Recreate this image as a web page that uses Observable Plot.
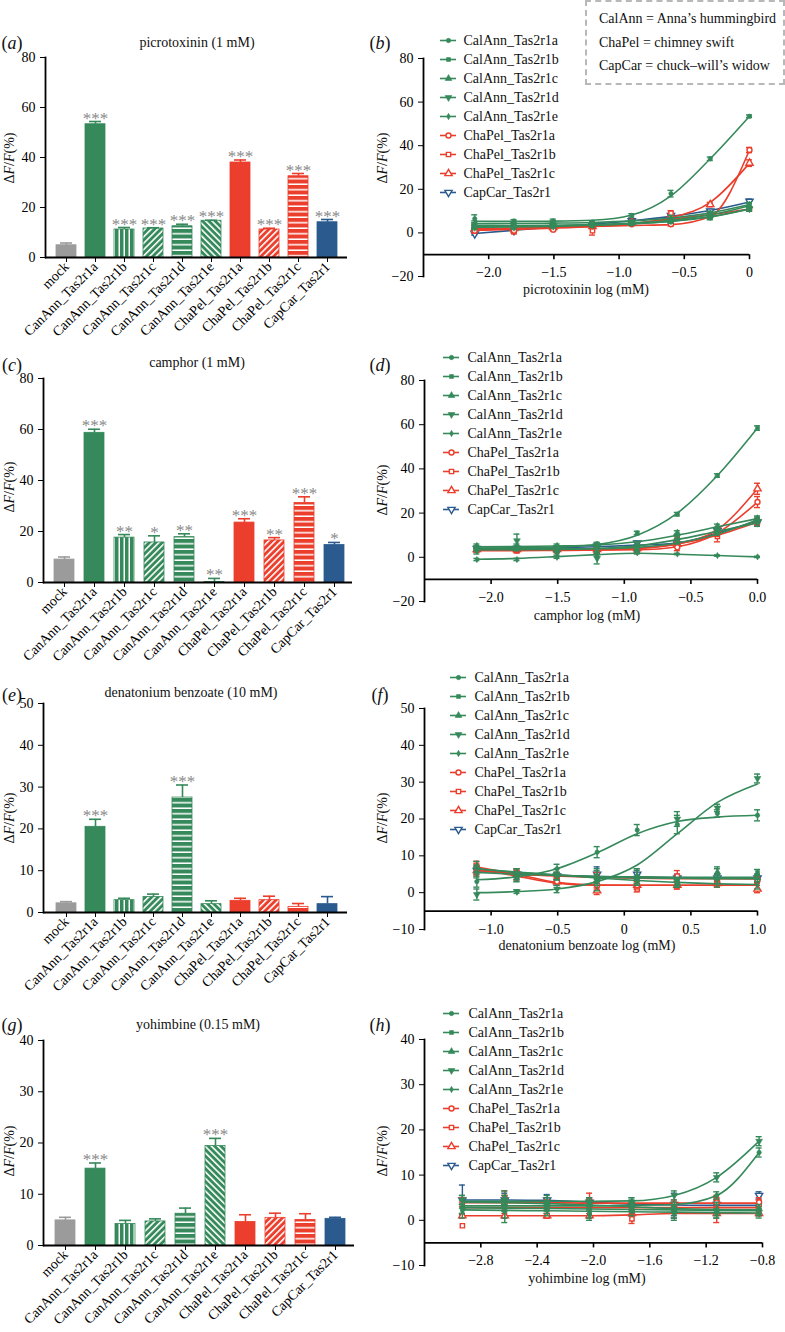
<!DOCTYPE html>
<html>
<head>
<meta charset="utf-8">
<script src="https://cdn.jsdelivr.net/npm/d3@7"></script>
<script src="https://cdn.jsdelivr.net/npm/@observablehq/plot@0.6"></script>
<style>
html,body{margin:0;padding:0;background:#fff;}
#root{position:relative;width:785px;height:1332px;overflow:hidden;font-family:"Liberation Serif","Times New Roman",serif;color:#111;}
#root .t{position:absolute;white-space:nowrap;line-height:1;transform:translate(-50%,-50%);}
#root .tl{position:absolute;white-space:nowrap;line-height:1;transform:translate(0,-50%);}
#root .p{position:absolute;}
</style>
</head>
<body>
<svg width="0" height="0" style="position:absolute;left:0;top:0">
<defs>
  <pattern id="gV" width="5" height="6" patternUnits="userSpaceOnUse"><rect width="5" height="6" fill="#35895a"/><rect x="3.5" width="1.5" height="6" fill="#fff"/></pattern>
  <pattern id="gH" width="6" height="5.5" patternUnits="userSpaceOnUse"><rect width="6" height="5.5" fill="#35895a"/><rect y="4" width="6" height="1.5" fill="#fff"/></pattern>
  <pattern id="gD1" width="4.5" height="4.5" patternUnits="userSpaceOnUse" patternTransform="rotate(45)"><rect width="4.5" height="4.5" fill="#35895a"/><rect width="1.6" height="4.5" fill="#fff"/></pattern>
  <pattern id="gD2" width="4.5" height="4.5" patternUnits="userSpaceOnUse" patternTransform="rotate(-45)"><rect width="4.5" height="4.5" fill="#35895a"/><rect width="1.6" height="4.5" fill="#fff"/></pattern>
  <pattern id="rD1" width="4.5" height="4.5" patternUnits="userSpaceOnUse" patternTransform="rotate(45)"><rect width="4.5" height="4.5" fill="#eb3e2c"/><rect width="1.6" height="4.5" fill="#fff"/></pattern>
  <pattern id="rH" width="6" height="5.5" patternUnits="userSpaceOnUse"><rect width="6" height="5.5" fill="#eb3e2c"/><rect y="4" width="6" height="1.5" fill="#fff"/></pattern>
</defs>
</svg>
<div id="root"></div>
<script>
// ---------------- data ----------------
const barCats = ["mock","CanAnn_Tas2r1a","CanAnn_Tas2r1b","CanAnn_Tas2r1c","CanAnn_Tas2r1d","CanAnn_Tas2r1e","ChaPel_Tas2r1a","ChaPel_Tas2r1b","ChaPel_Tas2r1c","CapCar_Tas2r1"];

const picroMean = [4.9, 53.3, 11.2, 11.6, 12.5, 14.7, 38.0, 11.2, 32.5, 14.1];
const picroErr  = [0.9, 1.1, 0.8, 0.3, 0.8, 0.2, 1.0, 0.5, 1.1, 1.1];
const picroSig  = ["", "***", "***", "***", "***", "***", "***", "***", "***", "***"];

const camphorMean = [9.0, 58.7, 17.6, 15.7, 17.8, 0.2, 23.5, 16.5, 31.2, 14.7];
const camphorErr  = [1.0, 1.4, 1.2, 2.6, 1.3, 1.4, 1.5, 1.1, 2.4, 1.0];
const camphorSig  = ["", "***", "**", "*", "**", "**", "***", "**", "***", "*"];

const denatMean = [2.2, 20.5, 2.95, 3.7, 27.5, 2.0, 2.8, 2.95, 1.35, 2.0];
const denatErr  = [0.4, 1.8, 0.45, 0.7, 3.0, 0.8, 0.6, 0.95, 0.8, 1.8];
const denatSig  = ["", "***", "", "", "***", "", "", "", "", ""];

const yohimMean = [4.9, 15.0, 4.2, 4.7, 6.2, 19.4, 4.6, 5.4, 5.0, 5.2];
const yohimErr  = [0.6, 1.1, 0.7, 0.5, 1.1, 1.5, 1.4, 0.9, 1.2, 0.3];
const yohimSig  = ["", "***", "", "", "", "***", "", "", "", ""];

const seriesNames = ["CalAnn_Tas2r1a","CalAnn_Tas2r1b","CalAnn_Tas2r1c","CalAnn_Tas2r1d","CalAnn_Tas2r1e","ChaPel_Tas2r1a","ChaPel_Tas2r1b","ChaPel_Tas2r1c","CapCar_Tas2r1"];

const picroX = [-2.107, -1.806, -1.505, -1.204, -0.903, -0.602, -0.301, 0];
const picroMeans = [
  [6.5, 5.5, 5.5, 5.0, 8.0, 18.0, 34.0, 53.5],
  [3.0, 3.0, 3.5, 3.5, 4.5, 5.5, 7.0, 11.0],
  [3.5, 3.5, 3.5, 4.0, 4.5, 6.0, 8.0, 12.5],
  [2.5, 2.5, 3.0, 3.5, 4.5, 5.5, 7.5, 11.0],
  [4.5, 4.0, 4.5, 4.5, 5.0, 7.0, 9.0, 13.0],
  [1.0, 1.0, 1.5, 3.0, 4.0, 4.0, 8.0, 38.0],
  [1.0, 0.5, 2.0, 1.0, 5.0, 9.0, 8.0, 11.0],
  [2.0, 2.0, 2.5, 3.0, 5.0, 8.0, 13.0, 32.0],
  [-0.5, 1.0, 2.5, 3.5, 5.5, 8.0, 10.0, 14.5]];
const picroSems = [
  [1.8, 0.6, 0.8, 0.6, 0.8, 1.5, 0.8, 0.6],
  [1.0, 0.8, 0.8, 0.8, 0.8, 1.0, 1.0, 1.0],
  [1.0, 0.8, 0.8, 0.8, 0.8, 1.0, 1.0, 1.0],
  [1.0, 0.8, 0.8, 0.8, 0.8, 1.0, 1.0, 1.0],
  [1.0, 0.8, 0.8, 0.8, 0.8, 1.0, 1.0, 1.0],
  [1.0, 0.5, 0.5, 1.0, 0.5, 0.8, 1.0, 1.2],
  [1.0, 0.5, 0.5, 2.0, 0.5, 1.2, 1.0, 1.0],
  [0.5, 0.5, 0.5, 0.5, 0.5, 1.0, 1.0, 1.5],
  [0.5, 0.5, 0.5, 0.5, 0.5, 0.5, 0.8, 1.0]];
const picroFits = [
  [5.3, 5.3, 5.4, 5.8, 8.2, 17.0, 34.0, 53.5],
  [3.0, 3.1, 3.3, 3.6, 4.2, 5.3, 7.3, 11.0],
  [3.4, 3.4, 3.5, 3.8, 4.5, 5.8, 8.3, 12.5],
  [2.6, 2.7, 3.0, 3.5, 4.2, 5.4, 7.5, 11.0],
  [4.2, 4.3, 4.5, 4.8, 5.5, 6.8, 9.2, 13.0],
  [1.5, 2.0, 2.5, 3.0, 3.4, 3.8, 7.5, 38.0],
  [1.2, 1.6, 2.2, 3.0, 4.3, 6.2, 8.4, 11.0],
  [2.0, 2.2, 2.5, 3.0, 4.2, 7.0, 14.0, 32.0],
  [-0.3, 1.2, 2.6, 4.0, 5.6, 7.6, 10.3, 14.2]];

const camphorX = [-2.107, -1.806, -1.505, -1.204, -0.903, -0.602, -0.301, 0];
const camphorMeans = [
  [4.0, 4.0, 4.5, 6.0, 11.0, 19.5, 37.0, 58.5],
  [4.0, 4.0, 3.5, 3.5, 4.0, 7.0, 11.0, 17.0],
  [5.0, 5.0, 5.0, 5.5, 6.0, 11.0, 14.0, 17.5],
  [3.0, 7.5, 2.0, -0.5, 4.5, 9.5, 12.0, 15.5],
  [-1.0, -1.0, 0.0, 1.0, 2.0, 1.5, 0.8, 0.2],
  [3.5, 3.5, 3.0, 3.0, 3.0, 4.5, 11.0, 25.0],
  [3.5, 3.0, 3.5, 2.5, 3.0, 8.0, 9.5, 16.0],
  [3.5, 3.5, 3.5, 3.5, 4.0, 6.0, 12.0, 31.0],
  [4.0, 4.0, 4.0, 5.0, 6.5, 6.0, 12.0, 16.0]];
const camphorSems = [
  [1.0, 1.0, 0.8, 0.8, 0.8, 0.8, 0.8, 1.0],
  [1.0, 1.0, 1.0, 1.0, 1.0, 1.0, 1.0, 1.2],
  [1.0, 1.0, 1.0, 1.0, 1.0, 1.0, 1.0, 1.2],
  [1.5, 3.0, 1.0, 2.5, 1.0, 1.0, 1.0, 1.5],
  [0.5, 0.5, 0.5, 0.5, 0.5, 0.3, 0.3, 0.3],
  [1.0, 1.0, 1.0, 1.0, 1.0, 1.5, 1.5, 2.5],
  [1.0, 1.0, 1.0, 1.0, 1.0, 1.5, 2.5, 1.5],
  [1.0, 1.0, 1.0, 1.0, 1.0, 1.0, 1.5, 2.5],
  [1.0, 1.0, 1.0, 1.0, 0.8, 1.0, 1.2, 1.5]];
const camphorFits = [
  [4.2, 4.3, 4.6, 5.8, 10.0, 20.0, 37.0, 58.5],
  [3.8, 3.8, 3.8, 3.9, 4.5, 6.5, 10.5, 17.0],
  [4.8, 4.9, 5.1, 5.6, 7.0, 10.0, 13.8, 17.5],
  [3.3, 3.4, 3.5, 4.0, 5.2, 8.0, 11.8, 15.5],
  [-0.9, -0.5, 0.3, 1.2, 1.8, 1.4, 0.8, 0.2],
  [3.3, 3.3, 3.3, 3.3, 3.4, 4.8, 11.0, 25.0],
  [3.0, 3.0, 3.1, 3.3, 4.0, 6.0, 10.0, 16.0],
  [3.5, 3.5, 3.5, 3.6, 4.0, 6.0, 12.5, 31.0],
  [4.0, 4.1, 4.3, 4.8, 5.5, 6.5, 11.0, 16.5]];

const denatX = [-1.107, -0.806, -0.505, -0.204, 0.097, 0.398, 0.699, 1.0];
const denatMeans = [
  [3.0, 4.0, 6.5, 11.0, 17.0, 18.5, 21.5, 21.0],
  [5.5, 4.0, 4.5, 3.5, 3.5, 2.5, 5.0, 5.5],
  [7.0, 5.0, 5.0, 4.0, 4.5, 2.5, 5.5, 4.0],
  [-0.5, 0.3, 1.0, 3.5, 4.0, 20.0, 23.0, 31.0],
  [6.5, 5.5, 4.5, 4.0, 3.0, 2.5, 2.5, 2.0],
  [7.0, 5.5, 3.0, 2.0, 2.0, 2.0, 2.5, 3.5],
  [6.5, 5.0, 4.5, 4.0, 1.0, 4.5, 3.0, 3.5],
  [6.0, 5.0, 3.0, 0.5, 2.0, 2.0, 2.5, 1.0],
  [6.0, 5.0, 4.5, 5.0, 5.0, 4.0, 4.0, 4.0]];
const denatSems = [
  [1.5, 1.0, 1.2, 1.5, 1.5, 2.5, 1.0, 1.5],
  [1.5, 1.0, 1.0, 1.0, 1.0, 1.0, 1.5, 0.8],
  [1.5, 1.5, 1.5, 2.0, 2.0, 1.0, 1.5, 1.0],
  [1.5, 0.5, 1.0, 3.0, 2.0, 2.0, 1.0, 1.2],
  [1.0, 1.0, 1.0, 1.0, 1.0, 1.0, 1.0, 1.0],
  [1.5, 1.0, 1.0, 1.0, 1.0, 1.0, 1.0, 0.8],
  [1.5, 1.5, 1.0, 1.5, 0.8, 1.5, 1.0, 1.0],
  [1.5, 1.5, 1.0, 1.0, 1.0, 1.0, 1.0, 1.0],
  [1.0, 1.0, 1.0, 2.0, 1.5, 1.0, 1.0, 1.0]];
const denatFits = [
  [3.5, 4.3, 6.5, 10.8, 16.0, 19.3, 20.5, 21.0],
  [5.5, 5.0, 4.7, 4.4, 4.3, 4.2, 4.2, 4.2],
  [6.5, 5.5, 4.8, 4.3, 4.0, 3.9, 3.8, 3.8],
  [0.0, 0.3, 1.0, 3.0, 7.5, 16.0, 24.5, 29.5],
  [6.5, 5.6, 4.8, 4.0, 3.3, 2.8, 2.4, 2.2],
  [7.0, 5.0, 2.8, 2.1, 2.0, 2.0, 2.0, 2.0],
  [6.0, 5.0, 4.5, 4.1, 3.9, 3.8, 3.8, 3.7],
  [6.5, 4.5, 2.6, 2.0, 2.0, 2.0, 2.0, 2.0],
  [6.0, 5.2, 4.7, 4.4, 4.2, 4.1, 4.0, 4.0]];

const yohimX = [-2.931, -2.630, -2.329, -2.028, -1.727, -1.426, -1.125, -0.824];
const yohimMeans = [
  [4.5, 3.0, 3.0, 4.0, 3.5, 3.0, 5.5, 15.0],
  [2.5, 2.0, 2.5, 1.5, 2.0, 1.5, 1.5, 1.5],
  [3.0, 5.0, 4.0, 3.5, 4.0, 2.0, 2.0, 2.5],
  [4.5, 4.5, 4.0, 3.5, 4.0, 5.5, 9.5, 17.5],
  [2.0, 2.0, 2.5, 1.0, 3.0, 1.5, 2.5, 2.0],
  [4.0, 4.0, 3.5, 3.5, 2.0, 3.5, 4.0, 4.0],
  [-1.2, 5.0, 1.0, 4.5, 0.3, 2.0, 4.5, 3.5],
  [1.0, 1.0, 1.0, 1.0, 1.5, 3.0, 1.5, 1.5],
  [4.5, 4.5, 4.5, 4.0, 3.0, 3.5, 3.5, 5.5]];
const yohimSems = [
  [1.0, 1.0, 1.0, 1.0, 1.0, 1.0, 0.8, 1.0],
  [1.0, 1.5, 1.0, 1.0, 1.0, 1.0, 1.0, 1.0],
  [1.5, 1.5, 1.5, 1.5, 1.0, 1.5, 1.5, 1.0],
  [1.0, 1.0, 1.0, 1.0, 1.0, 1.0, 1.0, 1.0],
  [1.5, 2.5, 1.5, 1.0, 1.0, 1.5, 1.5, 1.0],
  [1.0, 1.5, 1.0, 1.5, 1.0, 1.0, 1.0, 1.0],
  [0.0, 1.5, 0.5, 1.5, 1.0, 1.5, 1.0, 1.0],
  [0.5, 0.5, 0.5, 0.5, 0.5, 1.0, 2.0, 0.5],
  [3.3, 1.5, 1.2, 1.0, 1.0, 2.5, 1.0, 0.8]];
const yohimFits = [
  [3.2, 3.2, 3.2, 3.2, 3.3, 3.5, 5.5, 15.0],
  [2.3, 2.2, 2.1, 2.0, 1.9, 1.8, 1.7, 1.6],
  [4.0, 3.9, 3.7, 3.4, 3.0, 2.6, 2.4, 2.3],
  [4.2, 4.2, 4.2, 4.2, 4.3, 5.5, 9.5, 17.5],
  [2.8, 2.7, 2.6, 2.5, 2.4, 2.3, 2.2, 2.1],
  [3.9, 3.9, 3.9, 3.8, 3.8, 3.8, 3.8, 3.8],
  [2.8, 2.8, 2.8, 2.8, 2.8, 2.8, 2.8, 2.8],
  [1.0, 1.0, 1.0, 1.0, 1.2, 1.5, 1.5, 1.5],
  [4.5, 4.5, 4.4, 4.0, 3.6, 3.4, 3.3, 3.3]];

const picroTicks = [-2, -1.5, -1, -0.5, 0];
const picroTickLabels = ["−2.0", "−1.5", "−1.0", "−0.5", "0"];
const camphorTicks = [-2, -1.5, -1, -0.5, 0];
const camphorTickLabels = ["−2.0", "−1.5", "−1.0", "−0.5", "0.0"];
const denatTicks = [-1, -0.5, 0, 0.5, 1];
const denatTickLabels = ["−1.0", "−0.5", "0", "0.5", "1.0"];
const yohimTicks = [-2.8, -2.4, -2.0, -1.6, -1.2, -0.8];
const yohimTickLabels = ["−2.8", "−2.4", "−2.0", "−1.6", "−1.2", "−0.8"];

// ---------------- styles ----------------
const GREEN = "#35895a", RED = "#eb3e2c", BLUE = "#2b5b8e", GRAY = "#9b9b9b", STAR = "#8a8a8a";
const SERIF = '"Liberation Serif","Times New Roman",serif';
const barFill = [GRAY, GREEN, "url(#gV)", "url(#gD1)", "url(#gH)", "url(#gD2)", RED, "url(#rD1)", "url(#rH)", BLUE];
const barLine = [GRAY, GREEN, GREEN, GREEN, GREEN, GREEN, RED, RED, RED, BLUE];
const seriesColor = [GREEN, GREEN, GREEN, GREEN, GREEN, RED, RED, RED, BLUE];
const seriesSymbol = ["circle", "square", "triangle", "triangle", "diamond", "circle", "square", "triangle", "triangle"];
const seriesRotate = [0, 0, 0, 180, 0, 0, 0, 0, 180];
const seriesOpen = [false, false, false, false, false, true, true, true, true];
const seriesR = [2.2, 2.2, 2.5, 2.5, 1.9, 2.5, 2.4, 2.7, 2.7];

const root = document.getElementById("root");
const baseStyle = {fontFamily: SERIF, fontSize: "13px", color: "#000", background: "transparent", overflow: "visible"};

function place(node, left, top) {
  const d = document.createElement("div");
  d.className = "p";
  d.style.left = left + "px";
  d.style.top = top + "px";
  d.appendChild(node);
  root.appendChild(d);
}
function addText(html, cx, cy, size, cls, rot) {
  const d = document.createElement("div");
  d.className = cls || "t";
  d.style.left = cx + "px";
  d.style.top = cy + "px";
  d.style.fontSize = size + "px";
  if (rot) d.style.transform = "translate(-50%,-50%) rotate(-90deg)";
  d.innerHTML = html;
  root.appendChild(d);
}

function barPanel(lay, means, errs, sigs) {
  const rows = barCats.map((c, i) => ({cat: c, v: means[i], top: means[i] + errs[i], s: sigs[i], fill: barFill[i], col: barLine[i]}));
  const width = 372, pad = 15, bottom = 82;
  const height = (lay.y0 - lay.yTop) + pad + bottom;
  const step = (lay.c9 - lay.c0) / 9;
  const chart = Plot.plot({
    width, height, marginTop: pad, marginBottom: bottom, marginLeft: lay.L, marginRight: width - lay.R,
    style: baseStyle,
    x: {domain: barCats, range: [lay.c0 - step / 2, lay.c9 + step / 2], paddingInner: 1 - 20 / step, paddingOuter: 0},
    y: {domain: [0, lay.ymax]},
    color: {type: "identity"},
    marks: [
      Plot.barY(rows, {x: "cat", y: "v", fill: "fill", stroke: "col", strokeWidth: 0.8}),
      Plot.ruleX(rows, {x: "cat", y1: "v", y2: "top", stroke: "col", strokeWidth: 1.6}),
      Plot.tickY(rows, {x: "cat", y: "top", stroke: "col", strokeWidth: 1.6, insetLeft: 4, insetRight: 4}),
      Plot.text(rows, {x: "cat", y: "top", text: "s", fill: STAR, fontSize: 17, lineAnchor: "bottom", dy: 2}),
      Plot.axisX({tickSize: 5, tickRotate: -45, tickPadding: 2, label: null, fontSize: 14}),
      Plot.axisY({ticks: lay.yticks, tickSize: 5, tickPadding: 5, label: null, fontSize: 14}),
      Plot.ruleY([0], {strokeWidth: 1.8}),
      Plot.frame({anchor: "left", strokeWidth: 1.8})
    ]
  });
  place(chart, 0, lay.yTop - pad);
}

function linePanel(lay, xs, means, sems, fits) {
  const left = 370, width = 415, pad = 15, bottom = 25;
  const height = (lay.yBot - lay.yTop) + pad + bottom;
  const marks = [];
  for (let k = seriesNames.length - 1; k >= 0; k--) {
    const rows = xs.map((x, i) => ({x, m: means[k][i], e: sems[k][i], f: fits[k][i]}));
    const c = seriesColor[k];
    const er = rows.filter(d => d.e > 0);
    marks.push(Plot.line(rows, {x: "x", y: "f", stroke: c, strokeWidth: 1.6, curve: "monotone-x"}));
    marks.push(Plot.ruleX(er, {x: "x", y1: d => d.m - d.e, y2: d => d.m + d.e, stroke: c, strokeWidth: 1.4}));
    marks.push(Plot.ruleY(er, {x1: "x", x2: "x", y: d => d.m + d.e, stroke: c, strokeWidth: 1.4, insetLeft: -3, insetRight: -3}));
    marks.push(Plot.ruleY(er, {x1: "x", x2: "x", y: d => d.m - d.e, stroke: c, strokeWidth: 1.4, insetLeft: -3, insetRight: -3}));
    marks.push(Plot.dot(rows, {x: "x", y: "m", symbol: seriesSymbol[k], rotate: seriesRotate[k], r: seriesR[k],
      fill: seriesOpen[k] ? "#fff" : c, stroke: c, strokeWidth: seriesOpen[k] ? 1.4 : 0.6}));
  }
  const chart = Plot.plot({
    width, height, marginTop: pad, marginBottom: bottom, marginLeft: lay.L - left, marginRight: left + width - lay.R,
    style: baseStyle,
    x: {domain: lay.xdom, axis: null},
    y: {domain: lay.ydom},
    marks: [
      ...marks,
      Plot.axisY({ticks: lay.yticks, tickSize: 5, tickPadding: 5, label: null, fontSize: 14}),
      Plot.frame({anchor: "left", strokeWidth: 1.8}),
      Plot.ruleY([lay.xline], {strokeWidth: 1.8}),
      Plot.ruleX(lay.xticks, {x: d => d, y1: lay.xline, y2: lay.xline, insetBottom: -5, strokeWidth: 1.6}),
      Plot.text(lay.xticks, {x: d => d, y: lay.xline, dy: 18, text: (d, i) => lay.xlabels[i], fontSize: 14})
    ]
  });
  place(chart, left, lay.yTop - pad);
}

function legendPanel(top, lineLeft, spacing, gap) {
  const lineLen = 16, width = 170, pad = 8;
  const height = spacing * (seriesNames.length - 1) + 2 * pad;
  const marks = [];
  seriesNames.forEach((name, k) => {
    const c = seriesColor[k];
    marks.push(Plot.ruleY([name], {y: d => d, x1: 0, x2: 1, stroke: c, strokeWidth: 1.6}));
    marks.push(Plot.dot([name], {y: d => d, x: 0.5, symbol: seriesSymbol[k], rotate: seriesRotate[k], r: seriesR[k],
      fill: seriesOpen[k] ? "#fff" : c, stroke: c, strokeWidth: seriesOpen[k] ? 1.4 : 0.6}));
  });
  marks.push(Plot.text(seriesNames, {y: d => d, x: 1, dx: gap, text: d => d, textAnchor: "start", fontSize: 14, fill: "#111"}));
  const chart = Plot.plot({
    width, height, marginTop: pad, marginBottom: pad, marginLeft: 2, marginRight: width - 2 - lineLen,
    style: baseStyle,
    x: {domain: [0, 1], axis: null},
    y: {type: "point", domain: seriesNames, padding: 0, axis: null},
    marks
  });
  place(chart, lineLeft - 2, top - pad);
}

// ---------------- panels ----------------
barPanel({L: 45, R: 347, c0: 66, c9: 327.3, yTop: 57.3, y0: 257.3, ymax: 80, yticks: [0, 20, 40, 60, 80]}, picroMean, picroErr, picroSig);
barPanel({L: 43, R: 352, c0: 66, c9: 333, yTop: 378.3, y0: 582.3, ymax: 80, yticks: [0, 20, 40, 60, 80]}, camphorMean, camphorErr, camphorSig);
barPanel({L: 43, R: 347, c0: 65.7, c9: 326.7, yTop: 702.7, y0: 911.7, ymax: 50, yticks: [0, 10, 20, 30, 40, 50]}, denatMean, denatErr, denatSig);
barPanel({L: 43, R: 354, c0: 66, c9: 333.3, yTop: 1040, y0: 1245, ymax: 40, yticks: [0, 10, 20, 30, 40]}, yohimMean, yohimErr, yohimSig);

linePanel({L: 423, R: 749, yTop: 58, yBot: 276, ydom: [-20, 80], xdom: [-2.5, 0], xline: -10, yticks: [-20, 0, 20, 40, 60, 80], xticks: picroTicks, xlabels: picroTickLabels}, picroX, picroMeans, picroSems, picroFits);
linePanel({L: 424, R: 757, yTop: 380, yBot: 601, ydom: [-20, 80], xdom: [-2.5, 0], xline: -10, yticks: [-20, 0, 20, 40, 60, 80], xticks: camphorTicks, xlabels: camphorTickLabels}, camphorX, camphorMeans, camphorSems, camphorFits);
linePanel({L: 424, R: 757, yTop: 708, yBot: 929, ydom: [-10, 50], xdom: [-1.5, 1.0], xline: -5, yticks: [-10, 0, 10, 20, 30, 40, 50], xticks: denatTicks, xlabels: denatTickLabels}, denatX, denatMeans, denatSems, denatFits);
linePanel({L: 424, R: 762, yTop: 1039, yBot: 1265, ydom: [-10, 40], xdom: [-3.2, -0.8], xline: -5, yticks: [-10, 0, 10, 20, 30, 40], xticks: yohimTicks, xlabels: yohimTickLabels}, yohimX, yohimMeans, yohimSems, yohimFits);

legendPanel(38, 440, 19.4, 7);
legendPanel(353, 443, 19.9, 8);
legendPanel(675, 450, 19.4, 8);
legendPanel(1013, 443, 19.0, 9);

// ---------------- text ----------------
const letters = [["a", 12, 43], ["b", 380, 43], ["c", 12, 365], ["d", 380, 365], ["e", 12, 695], ["f", 380, 695], ["g", 12, 1025], ["h", 380, 1025]];
letters.forEach(([l, x, y]) => addText("(<i>" + l + "</i>)", x, y, 18));

addText("picrotoxinin (1 mM)", 197, 43, 14);
addText("camphor (1 mM)", 197, 363, 14);
addText("denatonium benzoate (10 mM)", 191, 693, 14);
addText("yohimbine (0.15 mM)", 198, 1025, 14);

const yLab = "Δ<i>F</i>/<i>F</i>(%)";
[[10, 158], [383, 158], [10, 487], [383, 490], [10, 818], [383, 818], [10, 1151], [383, 1151]].forEach(([x, y]) => addText(yLab, x, y, 14, "t", true));

addText("picrotoxinin log (mM)", 586, 290, 14);
addText("camphor log (mM)", 587, 616, 14);
addText("denatonium benzoate log (mM)", 587, 946, 14);
addText("yohimbine log (mM)", 587, 1279, 14);

// species key box
const box = document.createElement("div");
box.style.cssText = "position:absolute;left:585px;top:0px;width:196px;height:81px;border:2px dashed #b8b8b8;";
root.appendChild(box);
addText("CalAnn = Anna’s hummingbird", 599, 19, 14, "tl");
addText("ChaPel = chimney swift", 599, 43, 14, "tl");
addText("CapCar = chuck–will’s widow", 599, 66, 14, "tl");
</script>
</body>
</html>
